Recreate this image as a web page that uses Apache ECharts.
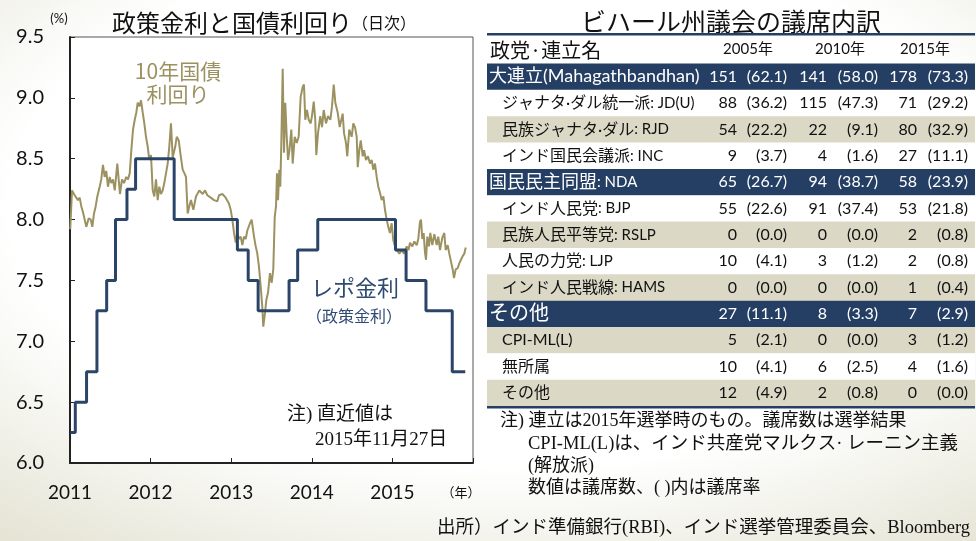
<!DOCTYPE html>
<html>
<head>
<meta charset="utf-8">
<script src="https://cdn.jsdelivr.net/npm/echarts@6/dist/echarts.min.js"></script>
<style>
  html, body { margin: 0; padding: 0; }
  #main {
    width: 976px; height: 541px;
    background: radial-gradient(ellipse 82% 78% at 52% 38%, #ffffff 62%, #e5e4d5 100%);
  }
</style>
</head>
<body>
<div id="main"></div>
<script>
// repo rate (RBI policy rate), changes by date
const repoDates = ['2011-01-03', '2011-01-25', '2011-03-17', '2011-05-03', '2011-06-16', '2011-07-26',
  '2011-09-16', '2011-10-25', '2012-04-17', '2013-01-29', '2013-03-19', '2013-05-03', '2013-09-20',
  '2013-10-29', '2014-01-28', '2015-01-15', '2015-03-04', '2015-06-02', '2015-09-29', '2015-11-27'];
const repoRates = [6.25, 6.50, 6.75, 7.25, 7.50, 8.00, 8.25, 8.50, 8.00, 7.75, 7.50, 7.25, 7.50,
  7.75, 8.00, 7.75, 7.50, 7.25, 6.75, 6.75];

// 10y government bond yield (decimal years)
const yieldYears = [2011.003, 2011.025, 2011.058, 2011.078, 2011.099, 2011.120, 2011.140, 2011.161, 2011.182, 2011.202,
  2011.232, 2011.257, 2011.277, 2011.298, 2011.319, 2011.339, 2011.368, 2011.388, 2011.409, 2011.430,
  2011.450, 2011.471, 2011.493, 2011.512, 2011.533, 2011.555, 2011.587, 2011.604, 2011.620, 2011.645,
  2011.670, 2011.698, 2011.720, 2011.741, 2011.761, 2011.782, 2011.803, 2011.823, 2011.840, 2011.860,
  2011.881, 2011.902, 2011.922, 2011.943, 2011.964, 2011.984, 2012.005, 2012.026, 2012.046, 2012.067,
  2012.088, 2012.108, 2012.129, 2012.150, 2012.170, 2012.191, 2012.212, 2012.232, 2012.253, 2012.274,
  2012.306, 2012.324, 2012.349, 2012.368, 2012.398, 2012.420, 2012.439, 2012.460, 2012.480, 2012.501,
  2012.530, 2012.563, 2012.604, 2012.646, 2012.675, 2012.704, 2012.746, 2012.787, 2012.828, 2012.849,
  2012.890, 2012.932, 2012.973, 2012.994, 2013.014, 2013.035, 2013.056, 2013.076, 2013.097, 2013.118,
  2013.138, 2013.159, 2013.180, 2013.200, 2013.233, 2013.254, 2013.283, 2013.304, 2013.324, 2013.345,
  2013.366, 2013.386, 2013.398, 2013.419, 2013.436, 2013.457, 2013.481, 2013.502, 2013.522, 2013.540,
  2013.556, 2013.568, 2013.581, 2013.597, 2013.609, 2013.622, 2013.639, 2013.655, 2013.671, 2013.689,
  2013.705, 2013.723, 2013.746, 2013.763, 2013.788, 2013.813, 2013.837, 2013.862, 2013.887, 2013.903,
  2013.919, 2013.940, 2013.962, 2013.986, 2014.002, 2014.024, 2014.043, 2014.056, 2014.077, 2014.105,
  2014.127, 2014.148, 2014.176, 2014.201, 2014.230, 2014.251, 2014.272, 2014.292, 2014.321, 2014.346,
  2014.366, 2014.383, 2014.400, 2014.424, 2014.440, 2014.465, 2014.495, 2014.515, 2014.536, 2014.557,
  2014.570, 2014.589, 2014.607, 2014.632, 2014.648, 2014.672, 2014.697, 2014.722, 2014.743, 2014.763,
  2014.784, 2014.805, 2014.825, 2014.846, 2014.867, 2014.888, 2014.908, 2014.929, 2014.949, 2014.970,
  2014.991, 2015.011, 2015.032, 2015.053, 2015.086, 2015.115, 2015.144, 2015.177, 2015.200, 2015.218,
  2015.247, 2015.272, 2015.302, 2015.321, 2015.342, 2015.355, 2015.371, 2015.388, 2015.404, 2015.417,
  2015.433, 2015.454, 2015.470, 2015.495, 2015.520, 2015.550, 2015.569, 2015.591, 2015.619, 2015.644,
  2015.661, 2015.686, 2015.706, 2015.727, 2015.748, 2015.764, 2015.785, 2015.810, 2015.830, 2015.851,
  2015.872, 2015.892, 2015.910];
const yieldValues = [7.92, 8.24, 8.20, 8.21, 8.16, 8.18, 8.11, 8.06, 8.00, 7.94,
  8.01, 8.00, 7.94, 8.05, 8.11, 8.19, 8.27, 8.33, 8.45, 8.35,
  8.40, 8.27, 8.35, 8.30, 8.33, 8.24, 8.46, 8.33, 8.21, 8.33,
  8.30, 8.35, 8.33, 8.38, 8.57, 8.74, 8.82, 8.88, 8.96, 8.93,
  8.98, 8.88, 8.79, 8.68, 8.60, 8.49, 8.53, 8.24, 8.19, 8.33,
  8.16, 8.27, 8.21, 8.24, 8.30, 8.38, 8.46, 8.60, 8.79, 8.51,
  8.60, 8.68, 8.65, 8.55, 8.41, 8.38, 8.35, 8.05, 8.11, 8.16,
  8.08, 8.19, 8.24, 8.21, 8.24, 8.20, 8.18, 8.16, 8.15, 8.20,
  8.21, 8.18, 8.13, 8.08, 8.00, 7.89, 7.81, 7.89, 7.84, 7.86,
  7.79, 7.86, 7.84, 7.91, 7.97, 8.00, 7.86, 7.78, 7.72, 7.61,
  7.45, 7.28, 7.12, 7.23, 7.34, 7.40, 7.56, 7.48, 7.59, 8.02,
  8.11, 8.38, 8.16, 8.41, 8.27, 8.63, 9.24, 8.55, 8.96, 8.68,
  8.49, 8.57, 8.74, 8.46, 8.68, 8.63, 8.68, 9.01, 9.09, 9.11,
  8.82, 8.90, 8.82, 8.79, 8.85, 8.97, 8.82, 8.53, 8.71, 8.85,
  8.76, 8.90, 8.79, 8.85, 8.82, 8.93, 9.11, 8.96, 8.88, 8.76,
  8.82, 8.87, 8.71, 8.63, 8.52, 8.74, 8.68, 8.79, 8.76, 8.68,
  8.43, 8.57, 8.65, 8.52, 8.57, 8.49, 8.52, 8.46, 8.49, 8.41,
  8.46, 8.35, 8.27, 8.22, 8.16, 8.19, 8.08, 8.00, 7.94, 7.89,
  7.97, 7.83, 7.78, 7.75, 7.72, 7.75, 7.72, 7.78, 7.75, 7.81,
  7.78, 7.82, 7.79, 7.84, 7.98, 8.00, 7.84, 7.89, 7.73, 7.67,
  7.86, 7.78, 7.89, 7.79, 7.88, 7.79, 7.86, 7.75, 7.85, 7.89,
  7.75, 7.79, 7.72, 7.73, 7.59, 7.52, 7.59, 7.60, 7.64, 7.67,
  7.70, 7.72, 7.77];

// Bihar assembly seats table
const partyNames = ['大連立(Mahagathbandhan)', 'ジャナタ·ダル統一派: JD(U)', '民族ジャナタ·ダル: RJD',
  'インド国民会議派: INC', '国民民主同盟: NDA', 'インド人民党: BJP', '民族人民平等党: RSLP',
  '人民の力党: LJP', 'インド人民戦線: HAMS', 'その他', 'CPI-ML(L)', '無所属', 'その他'];
const rowTypes = ['group', 'sub', 'sub', 'sub', 'group', 'sub', 'sub', 'sub', 'sub', 'group', 'sub', 'sub', 'sub'];
const yearHeaders = ['2005年', '2010年', '2015年'];
const seats2005 = [151, 88, 54, 9, 65, 55, 0, 10, 0, 27, 5, 10, 12];
const share2005 = [62.1, 36.2, 22.2, 3.7, 26.7, 22.6, 0.0, 4.1, 0.0, 11.1, 2.1, 4.1, 4.9];
const seats2010 = [141, 115, 22, 4, 94, 91, 0, 3, 0, 8, 0, 6, 2];
const share2010 = [58.0, 47.3, 9.1, 1.6, 38.7, 37.4, 0.0, 1.2, 0.0, 3.3, 0.0, 2.5, 0.8];
const seats2015 = [178, 71, 80, 27, 58, 53, 2, 2, 1, 7, 3, 4, 0];
const share2015 = [73.3, 29.2, 32.9, 11.1, 23.9, 21.8, 0.8, 0.8, 0.4, 2.9, 1.2, 1.6, 0.0];

const NAVY = '#243f63';
const OLIVE = '#9c9261';
const BEIGE = '#dcd8c6';
const JP = "'Noto Sans CJK JP', sans-serif";
const NUM = "Lato, 'Noto Sans CJK JP', sans-serif";
const SERIF = "'Liberation Serif', 'Noto Sans CJK JP', serif";

function toYear (s) {
  const p = s.split('-').map(Number);
  const start = Date.UTC(p[0], 0, 1), end = Date.UTC(p[0] + 1, 0, 1);
  return p[0] + (Date.UTC(p[0], p[1] - 1, p[2]) - start) / (end - start);
}

function txt (x, y, text, font, fill, align, extra) {
  return {
    type: 'text', x: x, y: y, silent: true,
    style: Object.assign({
      text: text, fill: fill || '#111', fontSize: font.size, fontFamily: font.family || JP,
      align: align || 'left', verticalAlign: 'middle',
      textAlign: align || 'left', textVerticalAlign: 'middle'
    }, extra || {})
  };
}

const chart = echarts.init(document.getElementById('main'), null, { renderer: 'canvas' });

const yieldData = yieldYears.map((t, i) => [t, yieldValues[i]]);
const repoData = repoDates.map((d, i) => [toYear(d), repoRates[i]]);

// table graphics
const gfx = [];
const tL = 487, tR = 975, rowTop = 63.5, rowH = 26.35;
const seatCols = [seats2005, seats2010, seats2015];
const shareCols = [share2005, share2010, share2015];
const seatRight = [737, 827, 917];
const shareRight = [787, 878, 968];
const yearCenter = [748, 840, 925];

gfx.push(txt(731, 21, 'ビハール州議会の議席内訳', { size: 25 }, '#111', 'center'));
gfx.push({ type: 'rect', shape: { x: tL, y: 33, width: tR - tL, height: 2.5 }, style: { fill: NAVY }, silent: true });
gfx.push(txt(490, 50, '政党·連立名', { size: 20 }));
yearHeaders.forEach((h, j) => gfx.push(txt(yearCenter[j], 49, h, { size: 15, family: NUM }, '#111', 'center')));

partyNames.forEach((name, i) => {
  const top = rowTop + i * rowH;
  const isGroup = rowTypes[i] === 'group';
  const bg = isGroup ? NAVY : (i % 2 === 0 ? BEIGE : '#ffffff');
  const fg = isGroup ? '#ffffff' : '#111';
  gfx.push({ type: 'rect', shape: { x: tL, y: top, width: tR - tL, height: rowH + 0.5 }, style: { fill: bg }, silent: true });
  const parts = name.split(': ');
  const jpSize = isGroup ? (name.length <= 3 ? 20 : 18) : 16;
  let text = '{j|' + parts[0] + '}';
  if (parts[1]) text += '{e|: ' + parts[1] + '}';
  gfx.push(txt(isGroup ? 489 : 502, top + rowH / 2, text, { size: jpSize, family: NUM }, fg, 'left', {
    rich: {
      j: { fontSize: jpSize, fontFamily: NUM, fill: fg },
      e: { fontSize: 15, fontFamily: NUM, fill: fg }
    }
  }));
  for (let j = 0; j < 3; j++) {
    gfx.push(txt(seatRight[j], top + rowH / 2, String(seatCols[j][i]), { size: 16, family: NUM }, fg, 'right'));
    gfx.push(txt(shareRight[j], top + rowH / 2, '(' + shareCols[j][i].toFixed(1) + ')', { size: 16, family: NUM }, fg, 'right'));
  }
});
const tableBottom = rowTop + partyNames.length * rowH;
gfx.push({ type: 'rect', shape: { x: tL, y: tableBottom, width: tR - tL, height: 2.5 }, style: { fill: NAVY }, silent: true });

// notes
gfx.push(txt(500, 421, '注) 連立は2015年選挙時のもの。議席数は選挙結果', { size: 18, family: SERIF }));
gfx.push(txt(528, 444, 'CPI-ML(L)は、インド共産党マルクス· レーニン主義', { size: 18.5, family: SERIF }));
gfx.push(txt(528, 466, '(解放派)', { size: 18, family: SERIF }));
gfx.push(txt(528, 488, '数値は議席数、( )内は議席率', { size: 18, family: SERIF }));
gfx.push(txt(437, 528, '出所）インド準備銀行(RBI)、インド選挙管理委員会、Bloomberg', { size: 18.5, family: SERIF }));

// left chart labels
gfx.push(txt(264, 23, '{a|政策金利と国債利回り}{b|（日次）}', { size: 24 }, '#111', 'center', {
  rich: {
    a: { fontSize: 24, fontFamily: JP, fill: '#111' },
    b: { fontSize: 16, fontFamily: JP, fill: '#111' }
  }
}));
gfx.push(txt(59, 19, '(%)', { size: 13, family: NUM }, '#111', 'center'));
gfx.push(txt(461, 492, '（年）', { size: 13 }, '#111', 'center'));
gfx.push(txt(178, 71, '10年国債', { size: 21 }, OLIVE, 'center'));
gfx.push(txt(178, 94, '利回り', { size: 21 }, OLIVE, 'center'));
gfx.push(txt(355, 288, 'レポ金利', { size: 22 }, '#2f4b73', 'center'));
gfx.push(txt(354, 316, '（政策金利）', { size: 16 }, '#2f4b73', 'center'));
gfx.push(txt(287, 415, '注) 直近値は', { size: 19, family: SERIF }));
gfx.push(txt(315, 440, '2015年11月27日', { size: 19, family: SERIF }));

const option = {
  animation: false,
  backgroundColor: 'transparent',
  grid: {
    left: 70, top: 37, right: 503, bottom: 78,
    show: true, backgroundColor: '#ffffff', borderColor: '#555', borderWidth: 1
  },
  xAxis: {
    type: 'value', min: 2011, max: 2016, interval: 1,
    axisLine: { lineStyle: { color: '#222', width: 2 } },
    axisTick: { inside: true, length: 5, lineStyle: { color: '#222' } },
    axisLabel: {
      formatter: v => (v === 2016 ? '' : String(v)),
      fontSize: 19, color: '#111', margin: 20, fontFamily: NUM
    },
    splitLine: { show: false }
  },
  yAxis: {
    type: 'value', min: 6, max: 9.5, interval: 0.5,
    axisLine: { show: true, lineStyle: { color: '#222', width: 2 } },
    axisTick: { show: true, inside: true, length: 5, lineStyle: { color: '#222' } },
    axisLabel: { formatter: v => v.toFixed(1), fontSize: 20, color: '#111', margin: 26, fontFamily: NUM },
    splitLine: { show: false }
  },
  series: [{
    name: '10年国債利回り',
    type: 'line',
    data: yieldData,
    showSymbol: false,
    lineStyle: { color: OLIVE, width: 2 },
    itemStyle: { color: OLIVE },
    z: 2
  }, {
    name: 'レポ金利',
    type: 'line',
    step: 'end',
    data: repoData,
    showSymbol: false,
    lineStyle: { color: '#2b4569', width: 3 },
    itemStyle: { color: '#2b4569' },
    z: 3
  }],
  graphic: gfx
};

chart.setOption(option);
</script>
</body>
</html>
